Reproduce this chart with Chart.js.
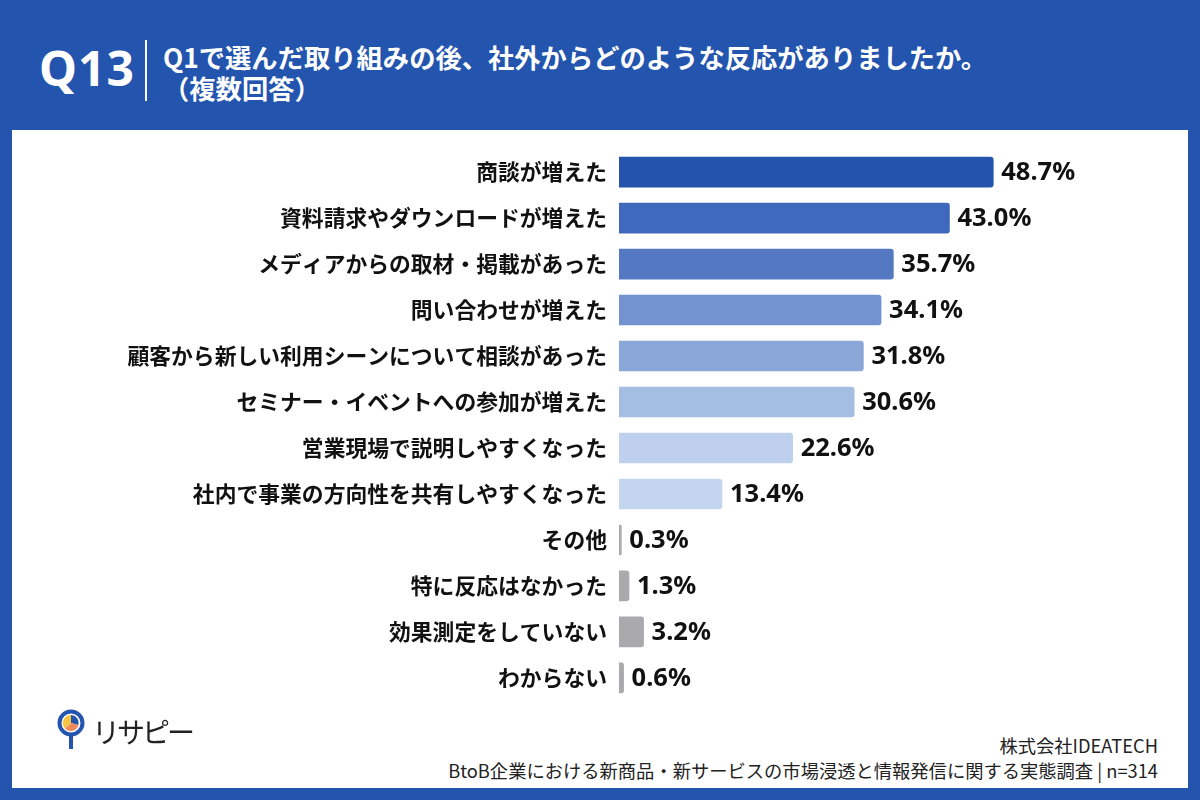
<!DOCTYPE html>
<html lang="ja">
<head>
<meta charset="utf-8">
<script src="https://cdn.jsdelivr.net/npm/chart.js@4"></script>
<style>
  html, body { margin: 0; padding: 0; }
  body {
    width: 1200px; height: 800px; position: relative; overflow: hidden;
    background: #2354ae;
    font-family: "Noto Sans CJK JP", "Noto Sans", sans-serif;
  }
  #q { position: absolute; left: 39px; top: 44px; color: #fff; font: 700 48px/1 "Noto Sans", sans-serif; letter-spacing: 1px; }
  #bar { position: absolute; left: 145px; top: 40px; width: 2px; height: 61px; background: #fff; }
  #title { position: absolute; left: 163px; top: 41px; color: #fff; font-weight: 700; font-size: 26.3px; line-height: 31px; }
  #panel { position: absolute; left: 12px; top: 130px; width: 1176px; height: 658px; background: #fff; }
  #wrap { position: absolute; left: 20px; top: 124px; width: 1160px; height: 602px; }
  #logo { position: absolute; left: 56px; top: 708px; display: flex; align-items: center; }
  #logo span { font-size: 28px; color: #222; margin-left: 6px; letter-spacing: -3px; }
  #src { position: absolute; right: 42px; top: 733px; text-align: right; color: #222; font-size: 18.3px; line-height: 25px; }
</style>
</head>
<body>
<div id="q">Q13</div>
<div id="bar"></div>
<div id="title">Q1で選んだ取り組みの後、社外からどのような反応がありましたか。<br>（複数回答）</div>
<div id="panel"></div>
<div id="wrap"><canvas id="myChart"></canvas></div>
<div id="logo">
  <svg width="30" height="46" viewBox="0 0 30 46">
    <circle cx="15" cy="15" r="11.5" fill="none" stroke="#2354ae" stroke-width="4"/>
    <path d="M15 15 L15 7 A8 8 0 0 1 22.5 17 Z" fill="#2354ae"/>
    <path d="M15 15 L22.5 17 A8 8 0 0 1 9 20.5 Z" fill="#f08a5d"/>
    <path d="M15 15 L9 20.5 A8 8 0 0 1 15 7 Z" fill="#f5c542"/>
    <rect x="13" y="27" width="4" height="14" fill="#2354ae"/>
  </svg>
  <span>リサピー</span>
</div>
<div id="src">株式会社IDEATECH<br>BtoB企業における新商品・新サービスの市場浸透と情報発信に関する実態調査 | n=314</div>

<script>
/* global Chart */

let labels = [
  "商談が増えた",
  "資料請求やダウンロードが増えた",
  "メディアからの取材・掲載があった",
  "問い合わせが増えた",
  "顧客から新しい利用シーンについて相談があった",
  "セミナー・イベントへの参加が増えた",
  "営業現場で説明しやすくなった",
  "社内で事業の方向性を共有しやすくなった",
  "その他",
  "特に反応はなかった",
  "効果測定をしていない",
  "わからない",
];
let values = [48.7, 43.0, 35.7, 34.1, 31.8, 30.6, 22.6, 13.4, 0.3, 1.3, 3.2, 0.6];
let barColors = [
  "#2453ae", "#3e69bd", "#5479c2", "#7293cf", "#8ba6d8", "#a3bde3",
  "#bfd0ee", "#c4d5ef", "#aaa9ae", "#aaa9ae", "#aaa9ae", "#aaa9ae",
];

// value text to the right of each bar
const valueLabels = {
  id: "valueLabels",
  afterDatasetsDraw(chart) {
    const ctx = chart.ctx;
    const meta = chart.getDatasetMeta(0);
    ctx.save();
    ctx.font = "700 25.5px 'Noto Sans', sans-serif";
    ctx.fillStyle = "#111";
    ctx.textAlign = "left";
    ctx.textBaseline = "middle";
    meta.data.forEach(function (bar, i) {
      ctx.fillText(values[i].toFixed(1) + "%", bar.x + 8, bar.y + 1);
    });
    ctx.restore();
  },
};

const ctx = document.getElementById("myChart");
const myChart = new Chart(ctx, {
  type: "bar",
  data: {
    labels: labels,
    datasets: [
      {
        data: values,
        backgroundColor: barColors,
        borderRadius: 3,
        borderSkipped: "start",
        barThickness: 30,
      },
    ],
  },
  options: {
    indexAxis: "y",
    responsive: true,
    maintainAspectRatio: false,
    animation: false,
    layout: { padding: 0 },
    plugins: {
      legend: { display: false },
      tooltip: { enabled: false },
    },
    scales: {
      x: {
        display: false,
        min: 0,
        max: 73,
      },
      y: {
        afterFit: function (scale) {
          scale.width = 599;
        },
        grid: { display: false, drawTicks: false },
        border: { display: false },
        ticks: {
          padding: 12,
          color: "#111",
          font: { family: "'Noto Sans CJK JP', sans-serif", size: 21.8, weight: "700" },
        },
      },
    },
  },
  plugins: [valueLabels],
});
</script>
</body>
</html>
